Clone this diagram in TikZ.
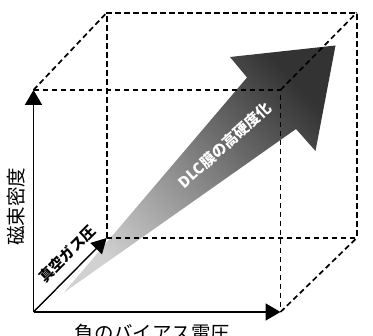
\documentclass[tikz,border=0pt]{standalone}
\usepackage{fontspec}
\newfontfamily\jp{Noto Sans CJK JP}
\usetikzlibrary{arrows.meta}
\tikzset{
  axisline/.style={line width=1.8pt,-{Triangle[length=15pt,width=17pt]}},
  cubeedge/.style={line width=1.7pt,dash pattern=on 5.5pt off 3.5pt},
  bigarrow/.style={top color=black!80,bottom color=black!18,shading angle=-47},
  labeltxt/.style={font=\jp\fontsize{19.5}{20}\selectfont,inner sep=0pt},
}
\begin{document}
\begin{tikzpicture}[x=1pt,y=-1pt]
\useasboundingbox (0,0) rectangle (373,336);
% cube corners
\coordinate (O) at (33.5,312);
\coordinate (X) at (280.5,312);
\coordinate (Y) at (33.5,90);
\coordinate (Z) at (106.7,238);
\coordinate (XY) at (280.5,90);
\coordinate (BY) at (106.7,12.7);
\coordinate (BXY) at (356.7,12.7);
\coordinate (BX) at (356.7,238);
% big arrow
\coordinate (T) at (64,292.5);
\coordinate (NL) at (296,129);
\coordinate (HL) at (315.5,151);
\coordinate (P) at (335.5,45.5);
\coordinate (HU) at (230,57);
\coordinate (NU) at (247,77.5);
\shade[bigarrow] (T) -- (NL) -- (HL) -- (P) -- (HU) -- (NU) -- cycle;
% dashed cube edges
\draw[cubeedge] (Y) -- (XY) -- (X);
\draw[cubeedge] (Z) -- (BY) -- (BXY) -- (BX) -- cycle;
\draw[cubeedge] (Y) -- (BY);
\draw[cubeedge] (XY) -- (BXY);
\draw[cubeedge] (X) -- (BX);
% axes
\draw[axisline] (O) -- (X);
\draw[axisline] (O) -- (Y);
\draw[axisline,line width=1.4pt,-{Triangle[length=15pt,width=16pt]}] (O) -- (Z);
% labels
\node[labeltxt,rotate=90] (ly) at (16.5,207) {磁束密度};
\node[labeltxt,anchor=base] (lx) at (152.5,341) {負のバイアス電圧};
\node[inner sep=0pt,rotate=45,font=\jp\bfseries\fontsize{14.5}{14.5}\selectfont] (lz) at (67,254) {真空ガス圧};
\node[inner sep=0pt,rotate=42,text=white,font=\jp\bfseries\fontsize{15}{15}\selectfont] (la) at (225,145) {DLC膜の高硬度化};
\end{tikzpicture}
\end{document}
